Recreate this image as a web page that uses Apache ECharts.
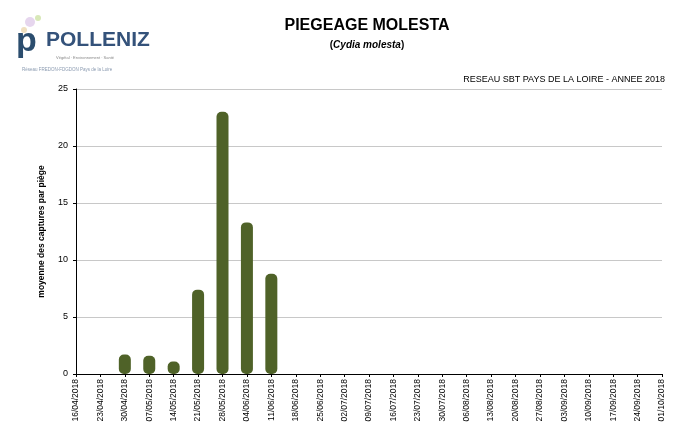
<!DOCTYPE html>
<html><head><meta charset="utf-8">
<script src="https://cdn.jsdelivr.net/npm/echarts@6/dist/echarts.min.js"></script>
<style>html,body{margin:0;padding:0;background:#fff}#c{width:687px;height:428px}</style>
</head><body><div id="c"></div>
<script>
const dates = ["16/04/2018","23/04/2018","30/04/2018","07/05/2018","14/05/2018","21/05/2018","28/05/2018","04/06/2018","11/06/2018","18/06/2018","25/06/2018","02/07/2018","09/07/2018","16/07/2018","23/07/2018","30/07/2018","06/08/2018","13/08/2018","20/08/2018","27/08/2018","03/09/2018","10/09/2018","17/09/2018","24/09/2018","01/10/2018"];
const captures = [null,null,1.7,1.6,1.1,7.4,23.0,13.3,8.8,null,null,null,null,null,null,null,null,null,null,null,null,null,null,null,null];
const yTicks = [0,5,10,15,20,25];

const chart = echarts.init(document.getElementById('c'), null, {renderer:'canvas'});
const F = 'Liberation Sans, Arial, sans-serif';
chart.setOption({
  animation:false,
  backgroundColor:'#fff',
  title:[{
    text:'PIEGEAGE MOLESTA',
    left:362, top:13, textAlign:'center',
    textStyle:{fontFamily:F,fontWeight:'bold',fontSize:16,color:'#000'}
  },{
    text:'({i|Cydia molesta})',
    left:362, top:35, textAlign:'center',
    textStyle:{fontFamily:F,fontWeight:'bold',fontSize:10,color:'#000',
      rich:{i:{fontFamily:F,fontWeight:'bold',fontStyle:'italic',fontSize:10,color:'#000'}}}
  },{
    text:'RESEAU SBT PAYS DE LA LOIRE - ANNEE 2018',
    right:17, top:70,
    textStyle:{fontFamily:F,fontWeight:'normal',fontSize:9,color:'#000'}
  }],
  graphic:[
    {type:'circle',shape:{cx:30,cy:22,r:5},style:{fill:'#e6d6ee'}},
    {type:'circle',shape:{cx:38,cy:18,r:3},style:{fill:'#d8e8b8'}},
    {type:'circle',shape:{cx:24,cy:30,r:3},style:{fill:'#f0e0c0'}},
    {type:'text',left:16,top:25,style:{text:'p',fontFamily:F,fontWeight:'bold',fontSize:34,fill:'#2b4d6e'}},
    {type:'text',left:46,top:30,style:{text:'POLLENIZ',fontFamily:F,fontWeight:'bold',fontSize:21,fill:'#34527a'}},
    {type:'text',left:56,top:56,style:{text:'Végétal · Environnement · Santé',fontFamily:F,fontSize:4,fill:'#888'}},
    {type:'text',left:22,top:67,style:{text:'Réseau FREDON-FDGDON Pays de la Loire',fontFamily:F,fontSize:4.5,fill:'#8a9ab0'}}
  ],
  grid:{left:76,right:25,top:89,bottom:54},
  xAxis:{
    type:'category',
    data:dates,
    boundaryGap:false,
    axisLine:{lineStyle:{color:'#000',width:1}},
    axisTick:{show:true,length:3,lineStyle:{color:'#000'}},
    axisLabel:{rotate:90,fontFamily:F,fontSize:8.5,color:'#000',margin:5,interval:0},
    splitLine:{show:false}
  },
  yAxis:{
    type:'value',min:0,max:25,interval:5,
    name:'moyenne des captures par piège',
    nameLocation:'middle',nameGap:30,
    nameTextStyle:{fontFamily:F,fontWeight:'bold',fontSize:8.5,color:'#000'},
    axisLine:{show:true,lineStyle:{color:'#000',width:1}},
    axisTick:{show:true,length:3,lineStyle:{color:'#000'}},
    axisLabel:{fontFamily:F,fontSize:9,color:'#000',margin:8,
      formatter:v=>yTicks.includes(v)?String(v):''},
    splitLine:{show:true,lineStyle:{color:'#c8c8c8',width:1}}
  },
  series:[{
    type:'bar',
    data:captures,
    barWidth:12,
    itemStyle:{color:'#4f6228',borderRadius:5}
  }]
});
</script></body></html>
